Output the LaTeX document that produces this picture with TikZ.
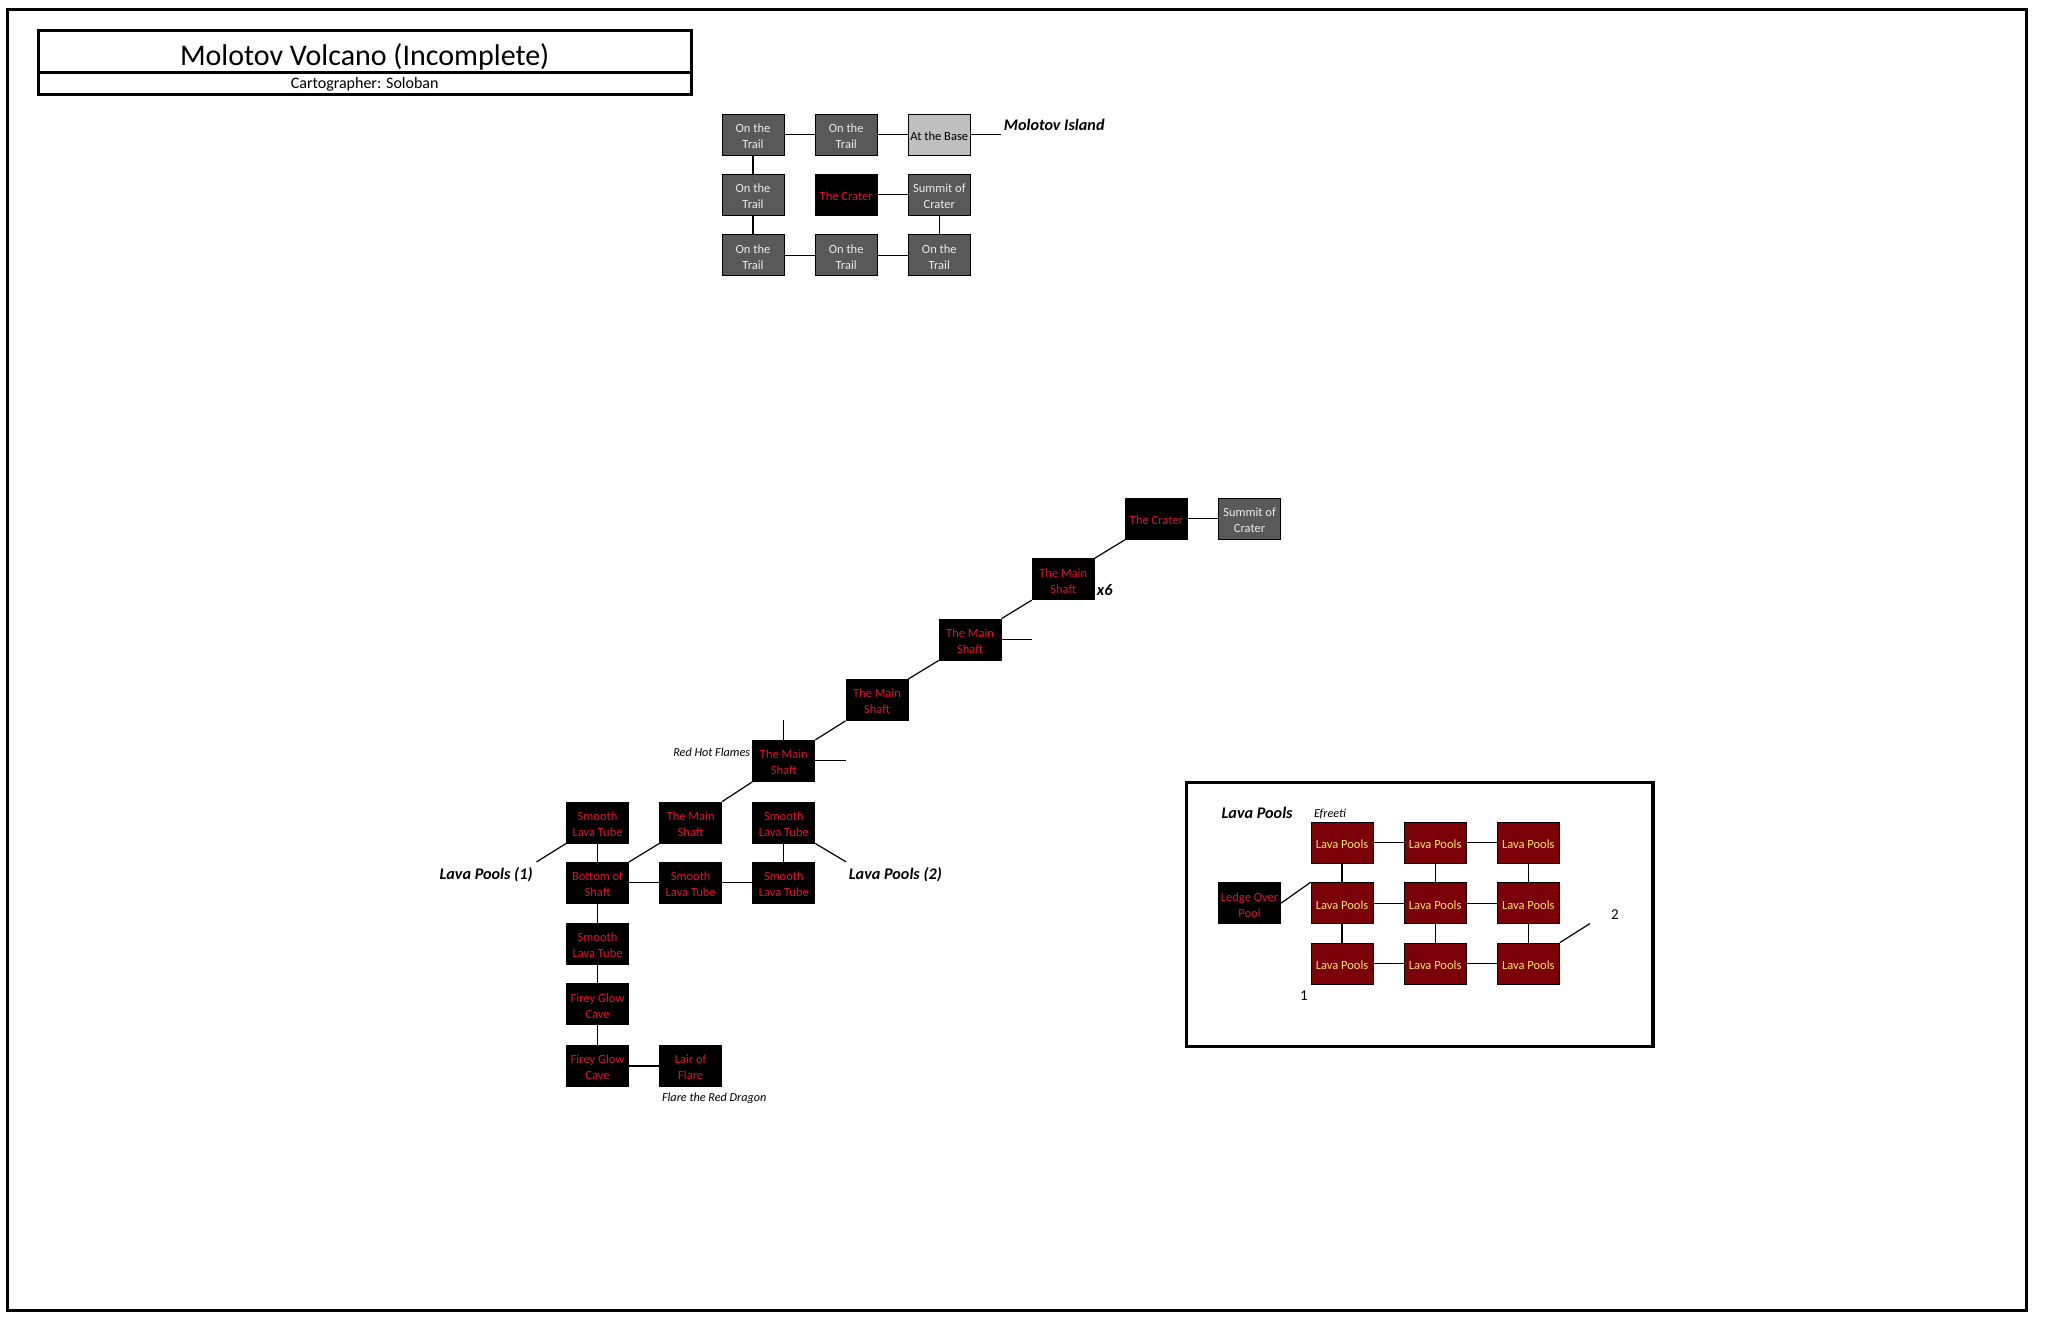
\documentclass[tikz,border=0pt]{standalone}
\usepackage{fontspec}
\setmainfont{Carlito}
\usetikzlibrary{calc}

\tikzset{
  room/.style={rectangle, draw=black, line width=0.9pt, inner sep=0pt, minimum width=62pt, minimum height=41pt, text height=27.8pt, align=center, font=\fontsize{12.5}{16}\selectfont},
  oneline/.style={text height=11.8pt},
  trail/.style={room, fill=trailgrey, text=white!92!black},
  base/.style={room, oneline, fill=basegrey, text=black},
  shaft/.style={room, fill=black, text=shaftred},
  pool/.style={room, oneline, fill=pooldark, text=poolyellow},
  link/.style={line width=1.2pt, black},
  frame/.style={line width=3.2pt, black},
  biglabel/.style={font=\fontsize{16.2}{18}\selectfont\bfseries\itshape},
  smalllabel/.style={font=\fontsize{12.2}{14}\selectfont\itshape}
}
\definecolor{trailgrey}{HTML}{595959}
\definecolor{basegrey}{HTML}{BFBFBF}
\definecolor{shaftred}{HTML}{E0102A}
\definecolor{pooldark}{HTML}{7B0008}
\definecolor{poolyellow}{HTML}{FFE45C}

\begin{document}
\begin{tikzpicture}[x=1.3119pt, y=-1.3119pt]
      \useasboundingbox (0, 0) rectangle (1568, 1015.3);
      \draw[frame] (5.5, 7) rectangle (1545, 999);

      \node[frame, draw, inner sep=0pt, minimum width=653pt, minimum height=42pt, text height=33pt, text depth=5pt, font=\fontsize{30}{32}\selectfont] (title) at (278, 39) {Molotov Volcano (Incomplete)};
      \node[frame, draw, inner sep=0pt, minimum width=653pt, minimum height=22pt, text height=13pt, font=\fontsize{16}{17}\selectfont] (credit) at (278, 63.5) {Cartographer: Soloban};

      \node[trail] (trail1) at (574, 102.5) {On the\\Trail};
      \node[trail] (trail2) at (645, 102.5) {On the\\Trail};
      \node[base] (base) at (716, 102.5) {At the Base};
      \node[trail] (trail3) at (574, 148.5) {On the\\Trail};
      \node[shaft, oneline] (crater1) at (645, 148.5) {The Crater};
      \node[trail] (summit1) at (716, 148.5) {Summit of\\Crater};
      \node[trail] (trail4) at (574, 194.5) {On the\\Trail};
      \node[trail] (trail5) at (645, 194.5) {On the\\Trail};
      \node[trail] (trail6) at (716, 194.5) {On the\\Trail};
      \coordinate (islandend) at (763, 102.5);
      \node[biglabel, anchor=west] (island) at (762.5, 95.5) {Molotov Island};

      \draw[link] (trail1) -- (trail2) -- (base) -- (islandend);
      \draw[link] (trail1) -- (trail3) -- (trail4) -- (trail5) -- (trail6) -- (summit1) -- (crater1);

      \node[shaft, oneline] (crater2) at (881.5, 395.5) {The Crater};
      \node[trail] (summit2) at (952.5, 395.5) {Summit of\\Crater};
      \node[shaft] (main1) at (810.5, 441.5) {The Main\\Shaft};
      \node[shaft] (main2) at (739.5, 487.5) {The Main\\Shaft};
      \node[shaft] (main3) at (668.5, 533.5) {The Main\\Shaft};
      \node[shaft] (main4) at (597.5, 580) {The Main\\Shaft};
      \node[shaft] (tube1) at (455.5, 627) {Smooth\\Lava Tube};
      \node[shaft] (main5) at (526.5, 627) {The Main\\Shaft};
      \node[shaft] (tube2) at (597.5, 627) {Smooth\\Lava Tube};
      \node[shaft] (bottom) at (455.5, 673) {Bottom of\\Shaft};
      \node[shaft] (tube3) at (526.5, 673) {Smooth\\Lava Tube};
      \node[shaft] (tube4) at (597.5, 673) {Smooth\\Lava Tube};
      \node[shaft] (tube5) at (455.5, 719.5) {Smooth\\Lava Tube};
      \node[shaft] (cave1) at (455.5, 765.5) {Firey Glow\\Cave};
      \node[shaft] (cave2) at (455.5, 812.5) {Firey Glow\\Cave};
      \node[shaft] (lair) at (526.5, 812.5) {Lair of\\Flare};

      \coordinate (main2end) at (787, 487.5);
      \coordinate (main4up) at (597.5, 549);
      \coordinate (main4end) at (645, 580);
      \coordinate (pools1end) at (409, 657);
      \coordinate (pools2end) at (645, 657);

      \draw[link] (crater2) -- (summit2);
      \draw[link] (crater2.south west) -- (main1.north east);
      \draw[link] (main1.south west) -- (main2.north east);
      \draw[link] (main2.south west) -- (main3.north east);
      \draw[link] (main3.south west) -- (main4.north east);
      \draw[link] (main4.south west) -- (main5.north east);
      \draw[link] (main5.south west) -- (bottom.north east);
      \draw[link] (main2) -- (main2end);
      \draw[link] (main4) -- (main4up);
      \draw[link] (main4) -- (main4end);
      \draw[link] (tube1.south west) -- (pools1end);
      \draw[link] (tube2.south east) -- (pools2end);
      \draw[link] (tube1) -- (bottom) -- (tube5) -- (cave1) -- (cave2) -- (lair);
      \draw[link] (bottom) -- (tube3) -- (tube4) -- (tube2);

      \node[biglabel, anchor=west] (times) at (833.5, 449.5) {x6};
      \node[smalllabel, anchor=east] (flames) at (574.5, 573.5) {Red Hot Flames};
      \node[biglabel] (pools1) at (370.5, 667) {Lava Pools (1)};
      \node[biglabel] (pools2) at (682.5, 667) {Lava Pools (2)};
      \node[smalllabel, anchor=west] (dragon) at (502, 837.5) {Flare the Red Dragon};

      \draw[frame] (904.5, 596.5) rectangle (1260, 797.5);
      \node[pool] (lava1) at (1023, 642.5) {Lava Pools};
      \node[pool] (lava2) at (1094, 642.5) {Lava Pools};
      \node[pool] (lava3) at (1165, 642.5) {Lava Pools};
      \node[pool] (lava4) at (1023, 688.5) {Lava Pools};
      \node[pool] (lava5) at (1094, 688.5) {Lava Pools};
      \node[pool] (lava6) at (1165, 688.5) {Lava Pools};
      \node[pool] (lava7) at (1023, 734.5) {Lava Pools};
      \node[pool] (lava8) at (1094, 734.5) {Lava Pools};
      \node[pool] (lava9) at (1165, 734.5) {Lava Pools};
      \node[shaft] (ledge) at (952.5, 688.5) {Ledge Over\\Pool};
      \coordinate (lavaend) at (1212, 704);

      \draw[link] (lava1) -- (lava2) -- (lava3) -- (lava6) -- (lava5) -- (lava4) -- (lava1);
      \draw[link] (lava4) -- (lava7) -- (lava8) -- (lava9) -- (lava6);
      \draw[link] (lava5) -- (lava8);
      \draw[link] (lava2) -- (lava5);
      \draw[link] (ledge.east) -- (lava4.north west);
      \draw[link] (lava9.north east) -- (lavaend);

      \node[biglabel, anchor=west] (poolstitle) at (928.5, 620) {Lava Pools};
      \node[smalllabel, anchor=west] (efreeti) at (999, 620.5) {Efreeti};
      \node[font=\fontsize{15}{16}\selectfont] (entry1) at (994, 759) {1};
      \node[font=\fontsize{15}{16}\selectfont] (entry2) at (1231, 697) {2};
    \end{tikzpicture}
\end{document}
